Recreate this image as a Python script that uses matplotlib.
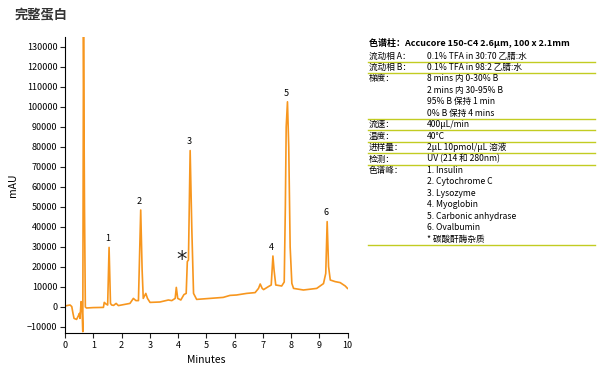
import matplotlib
matplotlib.use('Agg')
import matplotlib.pyplot as plt

plt.rcParams['font.family'] = ['Liberation Sans Narrow', 'Noto Sans CJK SC', 'DejaVu Sans']

# chromatogram trace (minutes, mAU)
time_min = [0.00, 0.10, 0.18, 0.24, 0.28, 0.32, 0.41, 0.47, 0.51, 0.53, 0.57, 0.60,
            0.63, 0.655, 0.69, 0.72, 0.76, 1.00, 1.36, 1.39, 1.45, 1.51, 1.56, 1.61,
            1.65, 1.72, 1.81, 1.89, 2.00, 2.30, 2.42, 2.51, 2.60, 2.68, 2.73, 2.77,
            2.86, 2.92, 3.01, 3.36, 3.66, 3.78, 3.90, 3.94, 3.99, 4.10, 4.21, 4.29,
            4.33, 4.37, 4.43, 4.49, 4.55, 4.66, 5.13, 5.60, 5.84, 6.07, 6.43, 6.73,
            6.85, 6.91, 6.98, 7.03, 7.20, 7.30, 7.36, 7.40, 7.46, 7.67, 7.76, 7.80,
            7.83, 7.875, 7.92, 7.97, 8.03, 8.09, 8.44, 8.91, 9.15, 9.23, 9.28, 9.33,
            9.39, 9.56, 9.74, 9.92, 10.00]
signal = [500, 800, 1000, 200, -3000, -5700, -6200, -4500, -3200, -5700, 2700, 200,
          -12300, 140000, 50000, 0, -500, -300, -200, 2300, 1500, 1000, 29800, 1800,
          1000, 800, 1800, 700, 1000, 1800, 4300, 3200, 3200, 48500, 18500, 4300,
          6800, 4300, 2300, 2500, 3500, 3200, 4300, 9800, 4300, 3500, 6200, 6800,
          22700, 23500, 78200, 38500, 6800, 3800, 4300, 4800, 5800, 6000, 6800, 7200,
          9300, 11500, 9300, 8700, 10200, 11000, 25500, 18500, 11000, 10500, 12500, 50000,
          90000, 102600, 80000, 30000, 11800, 9300, 8500, 9300, 11700, 16800, 42700, 20200,
          13500, 12700, 12200, 10500, 9300]

peak_labels = ['1', '2', '3', '4', '5', '6']
peak_times = [1.56, 2.68, 4.43, 7.36, 7.875, 9.28]
peak_heights = [29800, 48500, 78200, 25500, 102600, 42700]

y_ticks = list(range(-10000, 130001, 10000))
x_ticks = list(range(0, 11))

info_rows = [
    ('流动相 A：', '0.1% TFA in 30:70 乙腈:水'),
    ('流动相 B：', '0.1% TFA in 98:2 乙腈:水'),
    ('梯度：', '8 mins 内 0-30% B'),
    ('', '2 mins 内 30-95% B'),
    ('', '95% B 保持 1 min'),
    ('', '0% B 保持 4 mins'),
    ('流速：', '400μL/min'),
    ('温度：', '40°C'),
    ('进样量：', '2μL 10pmol/μL 溶液'),
    ('检测：', 'UV (214 和 280nm)'),
    ('色谱峰：', '1. Insulin'),
    ('', '2. Cytochrome C'),
    ('', '3. Lysozyme'),
    ('', '4. Myoglobin'),
    ('', '5. Carbonic anhydrase'),
    ('', '6. Ovalbumin'),
    ('', '* 碳酸酐酶杂质'),
]
# rule lines drawn under these row indices
rule_after = [0, 1, 5, 6, 7, 8, 9, 16]

orange = '#f7961e'
rule_col = '#c2cc22'

fig = plt.figure(figsize=(6.07, 3.78), dpi=100)
W, H = 607, 378
ax = fig.add_axes([65 / W, 1 - 333 / H, (347.5 - 65) / W, (333 - 37) / H])

ax.plot(time_min, signal, color=orange, lw=1.2, solid_joinstyle='round')
ax.set_xlim(0, 10)
ax.set_ylim(-13000, 135000)
ax.set_xticks(x_ticks)
ax.set_yticks(y_ticks)
ax.tick_params(labelsize=6.5, length=3.5, width=0.8, color='#222222', pad=2)
for s in ['top', 'right']:
    ax.spines[s].set_visible(False)
for s in ['left', 'bottom']:
    ax.spines[s].set_linewidth(0.8)
ax.set_xlabel('Minutes', fontsize=7.5, labelpad=4)
ax.set_ylabel('mAU', fontsize=7.5, labelpad=6)

for lab, t, h in zip(peak_labels, peak_times, peak_heights):
    ax.annotate(lab, (t, h), xytext=(-1, 3), textcoords='offset points',
                ha='center', va='bottom', fontsize=6.5)
ax.text(4.11, 23500, '*', fontsize=15, ha='center', va='center',
        family='DejaVu Sans', color='#222222')

fig.text(15 / W, 1 - 15 / H, '完整蛋白', fontsize=9.5, fontweight='bold',
         color='#333333', va='center', ha='left', family=['Noto Sans CJK SC', 'DejaVu Sans'])

# right-hand method table
x0, x1 = 369, 427
fig.text(x0 / W, 1 - 43 / H, '色谱柱：Accucore 150-C4 2.6μm, 100 x 2.1mm', fontsize=6.5,
         fontweight='bold', va='center', ha='left')
row_y0, row_dy = 56, 11.45
for i, (k, v) in enumerate(info_rows):
    yy = row_y0 + i * row_dy
    if k:
        fig.text(x0 / W, 1 - yy / H, k, fontsize=6.2, va='center', ha='left')
    fig.text(x1 / W, 1 - yy / H, v, fontsize=6.2, va='center', ha='left')
    if i in rule_after:
        ly = 1 - (yy + 5.7) / H
        fig.add_artist(plt.Line2D([368 / W, 595 / W], [ly, ly], color=rule_col, lw=1.0))

fig.savefig('out.png', dpi=100)
